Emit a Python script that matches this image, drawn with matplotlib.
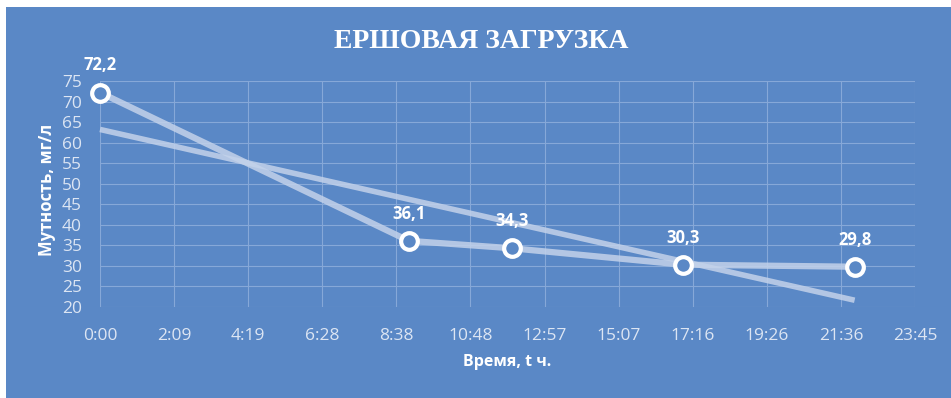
import matplotlib.pyplot as plt
import matplotlib.patches as patches
import numpy as np

# data: time in hours, turbidity mg/l
hours = [0, 9, 12, 17, 22]
turbidity = [72.2, 36.1, 34.3, 30.3, 29.8]
labels = ["72,2", "36,1", "34,3", "30,3", "29,8"]
xtick_labels = ["0:00", "2:09", "4:19", "6:28", "8:38", "10:48",
                "12:57", "15:07", "17:16", "19:26", "21:36", "23:45"]
title = "ЕРШОВАЯ ЗАГРУЗКА"

bg = "#5A88C6"
grid_c = "#86A8D8"
line_c = "#C3D2EA"
text_c = "#DCE5F3"

W, H = 951, 398
fig = plt.figure(figsize=(W / 100, H / 100), dpi=100)
fig.patch.set_facecolor("white")
fig.patches.append(patches.Rectangle((6 / W, 0), 1 - 6 / W, 1 - 7 / H,
                                     transform=fig.transFigure,
                                     facecolor=bg, edgecolor="none", zorder=-1))

ax = fig.add_axes([100 / W, 91 / H, 815 / W, 226 / H])
ax.set_zorder(2)
ax.set_facecolor("none")
for s in ax.spines.values():
    s.set_visible(False)

step = 2.16
xt = np.arange(12) * step
ax.set_xlim(0, xt[-1])
ax.set_ylim(20, 75)
ax.set_xticks(xt)
ax.set_xticklabels(xtick_labels)
ax.set_yticks(np.arange(20, 76, 5))
ax.grid(True, color=grid_c, lw=0.8)
ax.tick_params(length=0, colors=text_c, labelsize=12.5)
ax.tick_params(axis="x", pad=15)
ax.tick_params(axis="y", pad=13)
for t in ax.get_xticklabels() + ax.get_yticklabels():
    t.set_fontfamily("Open Sans")

# linear trend from the data
k, b = np.polyfit(hours, turbidity, 1)
tx = np.array([hours[0], hours[-1]])
ax.plot(tx, k * tx + b, color=line_c, lw=4, alpha=0.85, solid_capstyle="butt",
        zorder=3, clip_on=False)

ax.plot(hours, turbidity, color=line_c, lw=4.5, alpha=0.85, zorder=4, clip_on=False)
ax.plot(hours, turbidity, "o", ms=12, mfc=bg, mec="white", mew=3, zorder=5,
        clip_on=False)

for x, y, l in zip(hours, turbidity, labels):
    ax.annotate(l, (x, y), xytext=(0, 13), textcoords="offset points",
                ha="center", va="bottom", color="white", fontsize=12,
                fontweight="bold", fontfamily="Open Sans")

fig.text(481 / W, 1 - 42 / H, title, ha="center", va="center", color="white",
         fontsize=20, fontweight="bold", fontfamily="Liberation Serif")
fig.text(507 / W, 1 - 362 / H, "Время, t ч.", ha="center", va="center",
         color="white", fontsize=11.5, fontweight="bold", fontfamily="Open Sans")
fig.text(47 / W, 1 - 190 / H, "Мутность, мг/л", ha="center", va="center",
         rotation=90, color="white", fontsize=12, fontweight="bold",
         fontfamily="Open Sans")

fig.savefig("out.png", dpi=100, facecolor=fig.get_facecolor())
